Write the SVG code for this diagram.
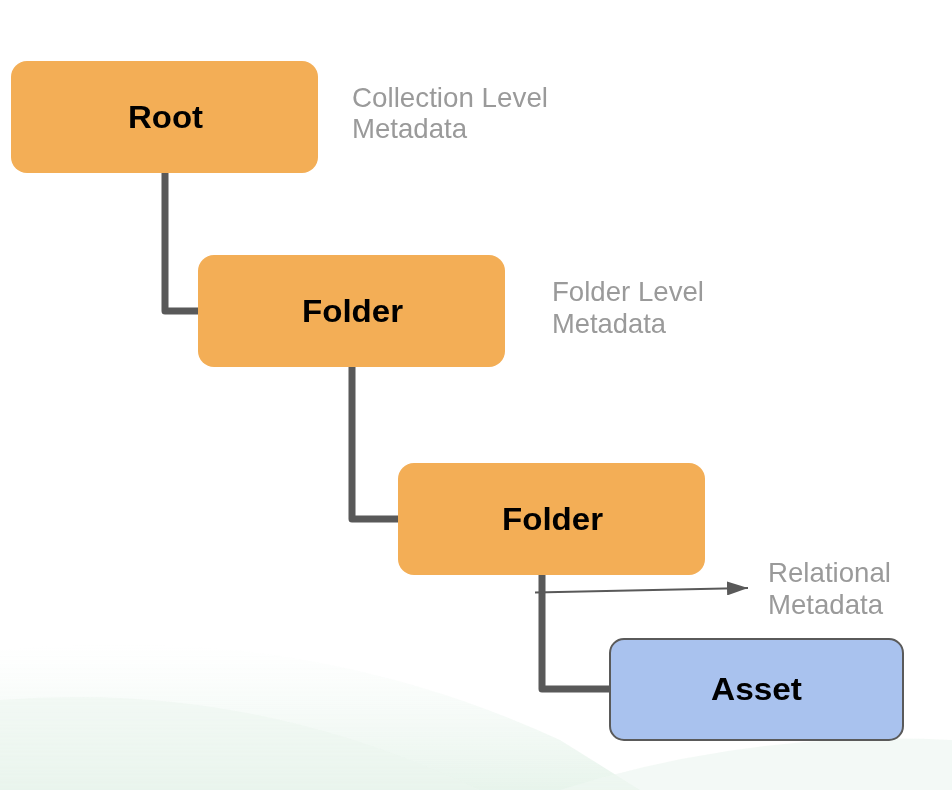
<svg xmlns="http://www.w3.org/2000/svg" width="952" height="790" viewBox="0 0 952 790">
<defs>
<style>
.node{fill:#F3AE56;}
.asset{fill:#A9C2EE;stroke:#5A5A5A;stroke-width:2;}
.lbl{font-family:"Liberation Sans",Arial,sans-serif;font-weight:bold;font-size:31px;fill:#000;}
.note{font-family:"Liberation Sans",Arial,sans-serif;font-size:28px;fill:#9A9A9A;}
.conn{fill:none;stroke:#595959;stroke-width:7;stroke-linejoin:round;stroke-linecap:round;}
</style>
<linearGradient id="bg1" x1="0" y1="0" x2="0" y2="1">
<stop offset="0" stop-color="#EAF5EE" stop-opacity="0"/>
<stop offset="1" stop-color="#DDEFE3" stop-opacity="1"/>
</linearGradient>
<marker id="arr" markerWidth="21" markerHeight="14" refX="21" refY="7" orient="auto" markerUnits="userSpaceOnUse" viewBox="0 0 21 14">
<path d="M0,0 L21,7 L0,14 Z" fill="#595959"/>
</marker>
</defs>
<rect width="952" height="790" fill="#FFFFFF"/>
<g id="background" opacity="0.7">
<path d="M0,650 Q300,620 560,740 L640,790 L0,790 Z" fill="url(#bg1)"/>
<path d="M0,700 Q250,680 480,790 L0,790 Z" fill="#E4F2E8" opacity="0.5"/>
<path d="M560,790 Q750,730 952,740 L952,790 Z" fill="#E8F4EC" opacity="0.7"/>
</g>
<g id="connectors">
<path class="conn" d="M165,173 V311 H198"/>
<path class="conn" d="M352,367 V519 H398"/>
<path class="conn" d="M542,575 V689 H610"/>
<line x1="535" y1="592.5" x2="748" y2="588" stroke="#595959" stroke-width="2" marker-end="url(#arr)"/>
</g>
<g id="root">
<rect class="node" x="11" y="61" width="307" height="112" rx="16"/>
<text class="lbl" x="128" y="128" textLength="75" lengthAdjust="spacingAndGlyphs">Root</text>
</g>
<g id="folder1">
<rect class="node" x="198" y="255" width="307" height="112" rx="16"/>
<text class="lbl" x="302" y="322" textLength="101" lengthAdjust="spacingAndGlyphs">Folder</text>
</g>
<g id="folder2">
<rect class="node" x="398" y="463" width="307" height="112" rx="16"/>
<text class="lbl" x="502" y="530" textLength="101" lengthAdjust="spacingAndGlyphs">Folder</text>
</g>
<g id="asset">
<rect class="asset" x="610" y="639" width="293" height="101" rx="14"/>
<text class="lbl" x="711" y="700" textLength="91" lengthAdjust="spacingAndGlyphs">Asset</text>
</g>
<g id="notes">
<text class="note" x="352" y="107" textLength="196" lengthAdjust="spacingAndGlyphs">Collection Level</text>
<text class="note" x="352" y="138" textLength="115" lengthAdjust="spacingAndGlyphs">Metadata</text>
<text class="note" x="552" y="301" textLength="152" lengthAdjust="spacingAndGlyphs">Folder Level</text>
<text class="note" x="552" y="333" textLength="114" lengthAdjust="spacingAndGlyphs">Metadata</text>
<text class="note" x="768" y="582" textLength="123" lengthAdjust="spacingAndGlyphs">Relational</text>
<text class="note" x="768" y="614" textLength="115" lengthAdjust="spacingAndGlyphs">Metadata</text>
</g>
</svg>
